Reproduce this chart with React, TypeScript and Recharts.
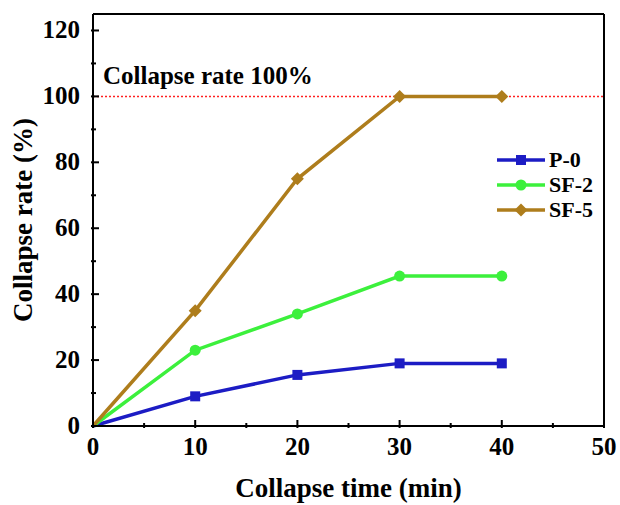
import React from "react";
import { LineChart, Line, XAxis, YAxis, ReferenceLine } from "recharts";

const times = [0, 10, 20, 30, 40];
const p0 = [0, 9, 15.5, 19, 19];
const sf2 = [0, 23, 34, 45.5, 45.5];
const sf5 = [0, 35, 75, 100, 100];
const xTicks = [0, 5, 10, 15, 20, 25, 30, 35, 40, 45, 50];
const yTicks = [0, 10, 20, 30, 40, 50, 60, 70, 80, 90, 100, 110, 120];

const FONT = "Liberation Serif, Times New Roman, serif";
const txt = { fontFamily: FONT, fontWeight: 700 as const };

const SERIES = [
  { key: "p0", name: "P-0", color: "#1c1cc4", shape: "square" },
  { key: "sf2", name: "SF-2", color: "#3cf03c", shape: "circle" },
  { key: "sf5", name: "SF-5", color: "#ae7d1c", shape: "diamond" },
];

const data = times.map((t, i) => ({ t, p0: p0[i], sf2: sf2[i], sf5: sf5[i] }));

function marker(shape: string, cx: number, cy: number, color: string, key?: any) {
  if (shape === "square") return <rect key={key} x={cx - 5} y={cy - 5} width={10} height={10} fill={color} />;
  if (shape === "circle") return <circle key={key} cx={cx} cy={cy} r={5.5} fill={color} />;
  return <polygon key={key} points={`${cx},${cy - 6.5} ${cx + 6.5},${cy} ${cx},${cy + 6.5} ${cx - 6.5},${cy}`} fill={color} />;
}

const makeDot = (shape: string, color: string) => (props: any) => {
  const { cx, cy, index } = props;
  if (index === 0) return <g key={index} />;
  return marker(shape, cx, cy, color, index);
};

const YTick = (props: any) => {
  const { x, y, payload } = props;
  const major = payload.value % 20 === 0;
  return (
    <g>
      <line x1={x} x2={x + (major ? 8 : 5)} y1={y} y2={y} stroke="#000" strokeWidth={2} />
      {major && (
        <text x={x - 11} y={y} dy={8} textAnchor="end" style={{ ...txt, fontSize: 25 }} fill="#000">
          {payload.value}
        </text>
      )}
    </g>
  );
};

const XTick = (props: any) => {
  const { x, y, payload } = props;
  const major = payload.value % 10 === 0;
  return (
    <g>
      <line x1={x} x2={x} y1={y} y2={y - (major ? 8 : 5)} stroke="#000" strokeWidth={2} />
      {major && (
        <text x={x} y={y} dy={27} textAnchor="middle" style={{ ...txt, fontSize: 25 }} fill="#000">
          {payload.value}
        </text>
      )}
    </g>
  );
};

const LegendBox = () => (
  <svg width={110} height={80} style={{ position: "absolute", left: 495, top: 145 }}>
    {SERIES.map((s, i) => {
      const cy = 15 + i * 25;
      return (
        <g key={s.key}>
          <line x1={2} x2={50} y1={cy} y2={cy} stroke={s.color} strokeWidth={3.5} />
          {marker(s.shape, 26, cy, s.color)}
          <text x={54} y={cy + 7} style={{ ...txt, fontSize: 22 }} fill="#000">
            {s.name}
          </text>
        </g>
      );
    })}
  </svg>
);

export default function App() {
  return (
    <div style={{ position: "absolute", left: 0, top: 0, width: 620, height: 505, background: "#fff" }}>
      <LineChart width={620} height={505} data={data} margin={{ top: 14, right: 16, bottom: 0, left: 0 }}>
        <XAxis
          dataKey="t"
          type="number"
          domain={[0, 50]}
          ticks={xTicks}
          interval={0}
          tick={<XTick />}
          tickLine={false}
          tickSize={0}
          stroke="#000"
          strokeWidth={2}
          height={79}
          label={(p: any) => (
            <text x={p.viewBox.x + p.viewBox.width / 2} y={497} textAnchor="middle" style={{ ...txt, fontSize: 27 }} fill="#000">
              Collapse time (min)
            </text>
          )}
        />
        <YAxis
          type="number"
          domain={[0, 125]}
          ticks={yTicks}
          interval={0}
          tick={<YTick />}
          tickLine={false}
          tickSize={0}
          stroke="#000"
          strokeWidth={2}
          width={93}
          label={(p: any) => {
            const cy = p.viewBox.y + p.viewBox.height / 2;
            return (
              <text x={32} y={cy} transform={`rotate(-90, 32, ${cy})`} textAnchor="middle" style={{ ...txt, fontSize: 27 }} fill="#000">
                Collapse rate (%)
              </text>
            );
          }}
        />
        <ReferenceLine y={125} stroke="#000" strokeWidth={2} />
        <ReferenceLine x={50} stroke="#000" strokeWidth={2} />
        <ReferenceLine
          y={100}
          stroke="#ff2020"
          strokeWidth={1.5}
          strokeDasharray="2 2"
          label={(p: any) => (
            <text x={p.viewBox.x + 10} y={p.viewBox.y - 12} style={{ ...txt, fontSize: 25 }} fill="#000">
              Collapse rate 100%
            </text>
          )}
        />
        {SERIES.map((s) => (
          <Line
            key={s.key}
            dataKey={s.key}
            name={s.name}
            stroke={s.color}
            strokeWidth={3.5}
            dot={makeDot(s.shape, s.color)}
            activeDot={false}
            isAnimationActive={false}
          />
        ))}
      </LineChart>
      <LegendBox />
    </div>
  );
}
